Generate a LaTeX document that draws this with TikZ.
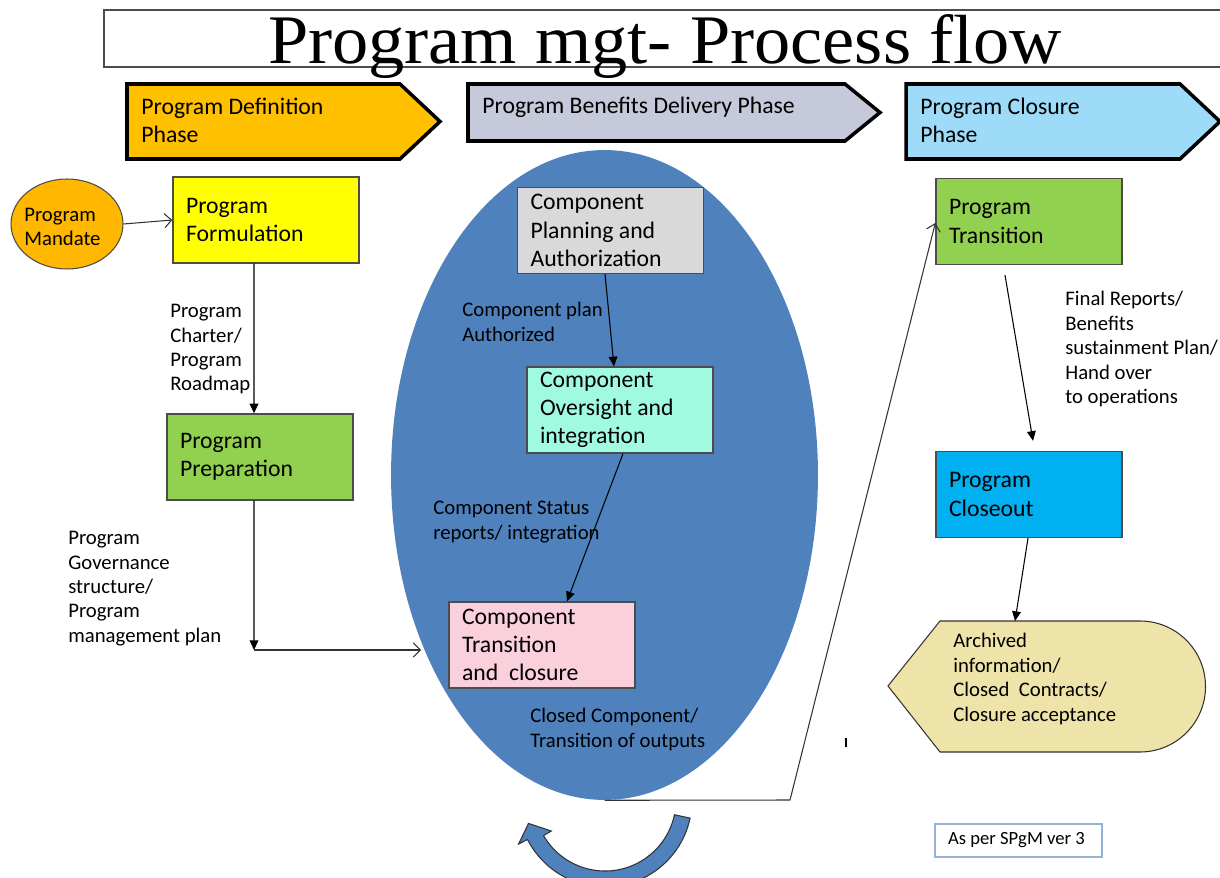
\documentclass[tikz,border=0pt]{standalone}
\usepackage{fontspec}
\setmainfont{Carlito}
\newfontfamily\titlefont{Liberation Serif}
\usetikzlibrary{shapes.geometric, arrows.meta, positioning, calc}

\definecolor{defphase}{RGB}{255,192,0}
\definecolor{delphase}{RGB}{197,201,217}
\definecolor{clophase}{RGB}{157,219,249}
\definecolor{mandatefill}{RGB}{255,183,0}
\definecolor{formfill}{RGB}{255,255,0}
\definecolor{prepfill}{RGB}{146,208,80}
\definecolor{deliveryblue}{RGB}{79,129,189}
\definecolor{planfill}{RGB}{217,217,217}
\definecolor{overfill}{RGB}{160,250,224}
\definecolor{transfill}{RGB}{250,208,220}
\definecolor{closefill}{RGB}{0,176,240}
\definecolor{archfill}{RGB}{238,227,168}
\definecolor{noteline}{RGB}{149,179,215}

\newcommand\boxfont{\fontsize{13.5}{16}\selectfont}
\newcommand\lblfont{\fontsize{11.8}{13.9}\selectfont}

\begin{document}
\begin{tikzpicture}[
    x=0.02cm, y=-0.02cm,
    % Styles
    phaseshape/.style={draw=black, line width=2pt, line join=miter},
    phasetext/.style={font=\boxfont, align=flush left, anchor=west, inner sep=0pt},
    procbox/.style={rectangle, draw=black!70, line width=0.8pt, minimum width=3.72cm, minimum height=1.72cm, text width=3.2cm, inner xsep=0.26cm, inner ysep=1pt, align=flush left, font=\boxfont},
    lbl/.style={font=\lblfont, align=flush left, anchor=north west, inner sep=0pt},
    fillarrow/.style={-{Triangle[length=5.5pt, width=5pt]}, line width=0.6pt, color=black},
    openarrow/.style={-{Straight Barb[length=4pt, width=8pt]}, line width=0.6pt, color=black!80}
]
\useasboundingbox (0,0) rectangle (1220,878);
\fill[white] (0,0) rectangle (1220,878);

% Title
\draw[black!70, line width=0.8pt] (104,10) rectangle (1230,67);
\node[anchor=base, inner sep=0pt] (title) at (665,64) {\resizebox{15.88cm}{0.98cm}{\titlefont Program mgt- Process flow}};

% Phase arrows
\draw[phaseshape, fill=defphase] (127,84) -- (400,84) -- (440,121.5) -- (400,159) -- (127,159) -- cycle;
\node[phasetext] (defphase) at (141,120) {Program Definition\\Phase};
\draw[phaseshape, fill=delphase] (468,84) -- (845,84) -- (880,112.5) -- (845,141) -- (468,141) -- cycle;
\node[phasetext] (delphase) at (482,107) {Program Benefits Delivery Phase};
\draw[phaseshape, fill=clophase] (906,84) -- (1180,84) -- (1220,121.5) -- (1180,159) -- (906,159) -- cycle;
\node[phasetext] (clophase) at (920,120) {Program Closure\\Phase};

% Definition phase
\node[ellipse, draw=black!70, line width=0.6pt, fill=mandatefill, minimum width=2.24cm, minimum height=1.8cm, inner sep=0pt] (mandate) at (67,224) {};
\node[lbl, anchor=west] (mandatetext) at (24,227) {Program\\Mandate};
\node[procbox, fill=formfill] (form) at (266,220) {Program\\Formulation};
\node[procbox, fill=prepfill] (prep) at (260,457) {Program\\Preparation};
\node[lbl] (charter) at (170,304) {Program\\Charter/\\Program\\Roadmap};
\node[lbl] (govern) at (68,531) {Program\\Governance\\structure/\\Program\\management plan};

% Benefits delivery phase
\node[ellipse, fill=deliveryblue, minimum width=8.54cm, minimum height=13cm, inner sep=0pt] (delivery) at (604.5,475) {};
\node[procbox, fill=planfill] (plan) at (610.5,230.5) {Component\\Planning and\\Authorization};
\node[procbox, fill=overfill] (over) at (620,410) {Component\\Oversight and\\integration};
\node[procbox, fill=transfill] (comptrans) at (542,645) {Component\\Transition\\and~ closure};
\node[lbl] (authlbl) at (462,302) {Component plan\\Authorized};
\node[lbl] (statuslbl) at (433,501) {Component Status\\reports/ integration};
\node[lbl] (closedlbl) at (530,708) {Closed Component/\\Transition of outputs};

% Closure phase
\node[procbox, fill=prepfill] (prtrans) at (1029,221.5) {Program\\Transition};
\node[procbox, fill=closefill] (closeout) at (1029,494.5) {Program\\Closeout};
\node[lbl] (finallbl) at (1065,291) {Final Reports/\\Benefits\\sustainment Plan/\\Hand over\\to operations};
\draw[black!80, line width=0.6pt, fill=archfill] (888,686) -- (940,621) -- (1140,621) arc (-90:90:65.5) -- (940,752) -- cycle;
\coordinate (archtop) at (1015,621);
\node[lbl] (archived) at (953,633) {Archived\\information/\\Closed~ Contracts/\\Closure acceptance};
\node[rectangle, draw=noteline, line width=0.8pt, minimum width=3.34cm, minimum height=0.66cm, text width=2.82cm, inner xsep=0.26cm, align=flush left, font=\fontsize{10.6}{12}\selectfont] (note) at (1018.5,840.5) {\mbox{As per SPgM ver 3}};

% Connectors
\coordinate (govend) at (254,650);
\coordinate (govin) at (421,650);
\coordinate (bend) at (790,800);
\draw[openarrow] (mandate.east) -- (form.west);
\draw[fillarrow] ([xshift=-0.24cm]form.south) -- ([xshift=-0.12cm]prep.north);
\draw[fillarrow] ([xshift=-0.12cm]prep.south) -- (govend);
\draw[openarrow] (govend) -- (govin);
\draw[fillarrow] ([xshift=-0.11cm]plan.south) -- ([xshift=-0.12cm]over.north);
\draw[fillarrow] ([xshift=0.06cm]over.south) -- ([xshift=0.5cm]comptrans.north);
\draw[openarrow] (delivery.south) -- (bend) -- ([yshift=-0.03cm]prtrans.west);
\draw[fillarrow] ([xshift=-0.48cm, yshift=-0.2cm]prtrans.south) -- ([xshift=0.08cm, yshift=0.2cm]closeout.north);
\draw[fillarrow] ([xshift=-0.02cm]closeout.south) -- (archtop);

% Stray tick
\draw[line width=1.2pt] (846,738) -- (846,747);

% Cycle arrow
\begin{scope}[shift={(605,800)}]
\draw[black!80, line width=0.6pt, fill=deliveryblue] (12:87) arc (12:153:87) -- (153:97) -- (163:80) -- (150:62) -- (150:71) arc (150:12:71) -- cycle;
\end{scope}

\end{tikzpicture}
\end{document}
